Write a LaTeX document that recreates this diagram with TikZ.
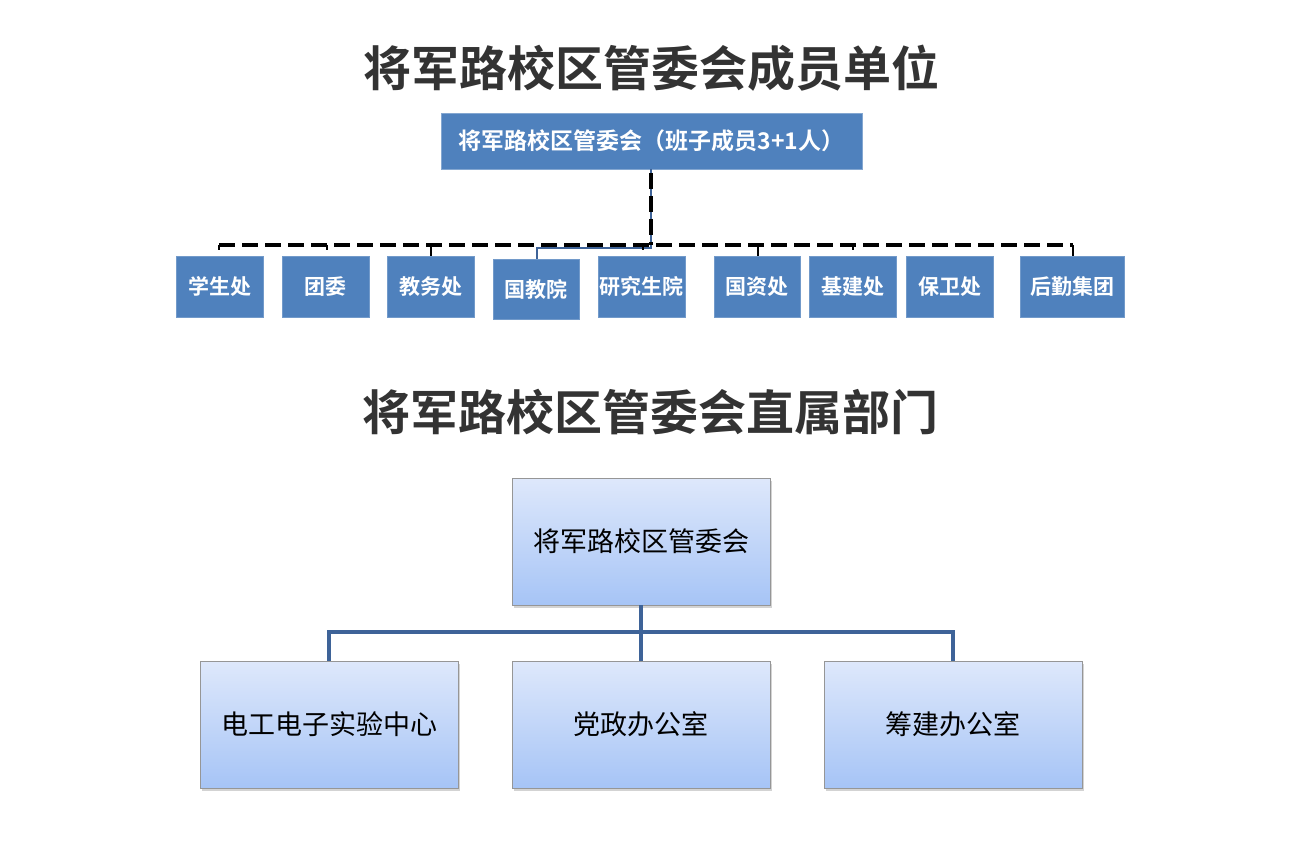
\documentclass[tikz,border=0pt]{standalone}
\usepackage{fontspec}
\setmainfont{Noto Sans CJK SC}[BoldFont={Noto Sans CJK SC Bold}]
\usetikzlibrary{shadows,calc}
\definecolor{titlegray}{RGB}{51,51,51}
\definecolor{boxblue}{RGB}{79,129,189}
\definecolor{linkblue}{RGB}{62,99,152}
\definecolor{gradtop}{RGB}{222,232,251}
\definecolor{gradbot}{RGB}{166,196,246}
\definecolor{gborder}{RGB}{150,150,150}
\begin{document}
\begin{tikzpicture}[x=1pt,y=-1pt,
  titletext/.style={font=\fontsize{48}{52}\selectfont\bfseries, text=titlegray, inner sep=0pt},
  unitbox/.style={fill=boxblue, draw=boxblue!80!white, line width=0.6pt, text=white,
    font=\fontsize{21}{24}\selectfont\bfseries, minimum height=61pt, inner sep=0pt},
  headbox/.style={fill=boxblue, draw=boxblue!70!white, line width=0.6pt, text=white,
    font=\fontsize{23}{26}\selectfont\bfseries, minimum width=421pt, minimum height=56pt, inner sep=0pt},
  deptbox/.style={draw=gborder, line width=0.8pt, top color=gradtop, bottom color=gradbot,
    minimum width=258pt, minimum height=127pt, inner sep=0pt,
    font=\fontsize{27}{30}\selectfont, text=black,
    drop shadow={shadow xshift=2pt, shadow yshift=-3pt, opacity=0.35, fill=gray}},
  dashlink/.style={black, line width=4pt, dash pattern=on 16pt off 7pt},
  ticklink/.style={black, line width=2pt},
  bluelink/.style={linkblue, line width=3.5pt}
]
\useasboundingbox (0,0) rectangle (1297,842);

% titles
\node[titletext] (t1) at (651,68) {将军路校区管委会成员单位};
\node[titletext] (t2) at (650,412) {将军路校区管委会直属部门};

% top section
\node[headbox] (head) at (651.5,141) {将军路校区管委会（班子成员3+1人）};

\node[unitbox, minimum width=87pt] (u1) at (219.5,286.5) {学生处};
\node[unitbox, minimum width=87pt] (u2) at (325.5,286.5) {团委};
\node[unitbox, minimum width=87pt] (u3) at (430.5,286.5) {教务处};
\node[unitbox, minimum width=86pt, minimum height=60pt] (u4) at (536,289) {国教院};
\node[unitbox, minimum width=87pt] (u5) at (641.5,286.5) {研究生院};
\node[unitbox, minimum width=86pt] (u6) at (757,286.5) {国资处};
\node[unitbox, minimum width=87pt] (u7) at (852.5,286.5) {基建处};
\node[unitbox, minimum width=87pt] (u8) at (949.5,286.5) {保卫处};
\node[unitbox, minimum width=104pt] (u9) at (1072,286.5) {后勤集团};

\coordinate (hl) at (219,245);
\coordinate (hr) at (1073,245);
\coordinate (hm) at (651,245);

% solid blue link under the dashed one
\draw[linkblue, line width=2.5pt] (651,169) -- (651,248) -- (537,248) -- (u4.north -| 537,0);

% stubs
\draw[ticklink] (u3.north -| 431,0) -- (431,245);
\draw[ticklink] (u6.north -| 758,0) -- (758,245);
\draw[ticklink] (u9.north -| 1073,0) -- (1073,245);
\draw[ticklink] (327,245) -- (327,250);
\draw[ticklink] (643,245) -- (643,250);
\draw[ticklink] (853,245) -- (853,250);
\draw[ticklink] (219,245) -- (219,250);

% dashed links
\draw[dashlink] (651,173) -- (hm);
\draw[dashlink] (hl) -- (hr);

% bottom section
\node[deptbox] (btop) at (641,541.5) {将军路校区管委会};
\node[deptbox] (b1) at (329,724.5) {电工电子实验中心};
\node[deptbox] (b2) at (641,724.5) {党政办公室};
\node[deptbox] (b3) at (953,724.5) {筹建办公室};

\coordinate (bus) at (641,632);
\draw[bluelink] (btop.south) -- (bus);
\draw[bluelink] (b1.north) |- (bus) -| (b3.north);
\draw[bluelink] (bus) -- (b2.north);
\end{tikzpicture}
\end{document}
